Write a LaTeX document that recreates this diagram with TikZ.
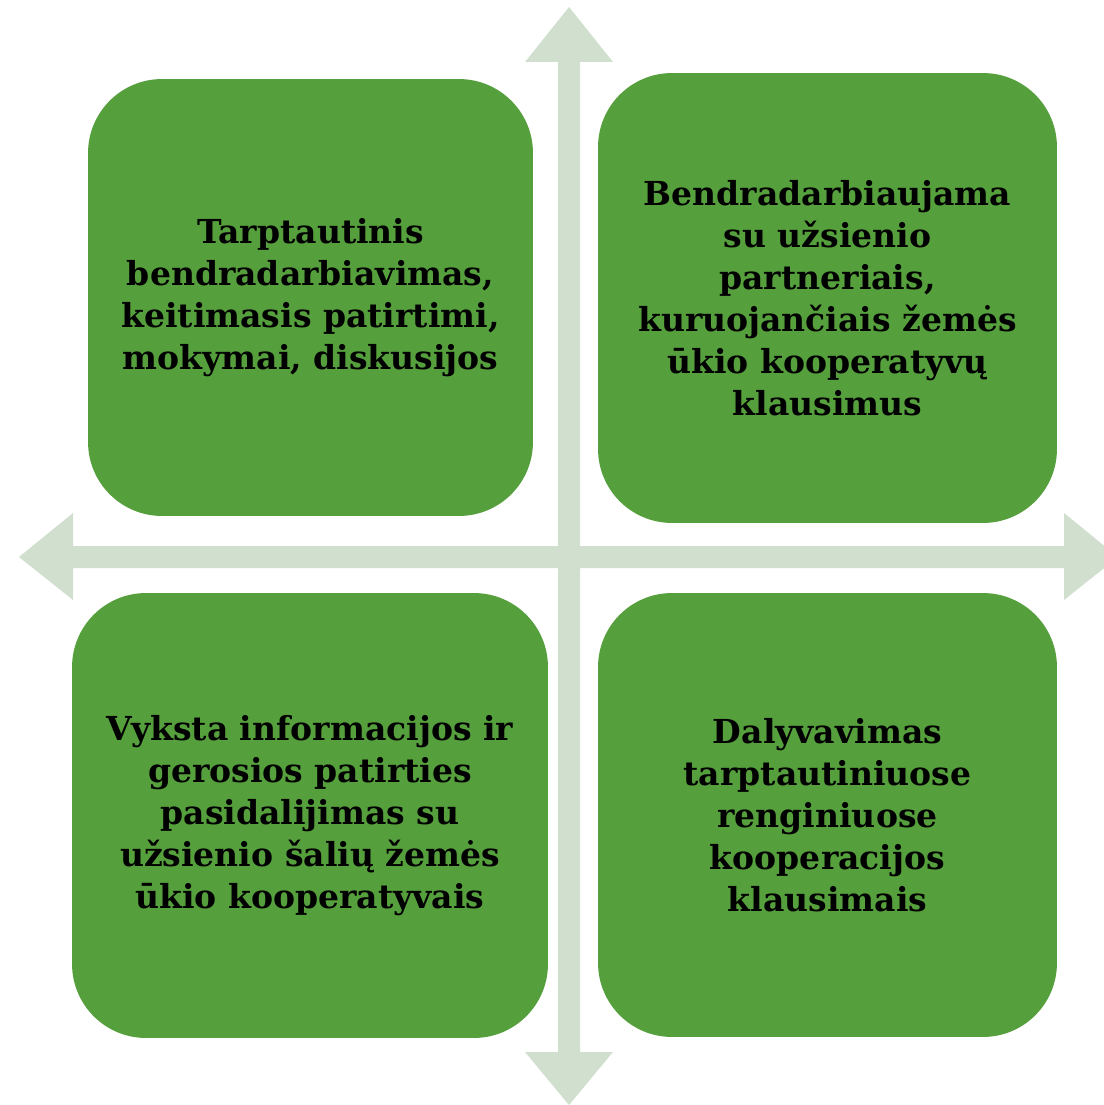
\documentclass[tikz,border=0pt]{standalone}
\usepackage{fontspec}
\setmainfont{DejaVu Serif}
\usetikzlibrary{positioning}
\definecolor{boxgreen}{RGB}{85,159,60}
\definecolor{axisgray}{RGB}{209,223,207}
\tikzset{
  kvadratas/.style={fill=boxgreen, rounded corners=1.48cm, inner sep=0pt,
    align=center, font=\bfseries\fontsize{18.8}{23.9}\selectfont},
}

\begin{document}
\begin{tikzpicture}[x=0.02cm,y=-0.02cm]
            \clip (0,0) rectangle (1104,1105);

            % Vertical axis
            \fill[axisgray] (558,62) -- (525,62) -- (569,7) -- (613,62) -- (580,62)
                -- (580,1052) -- (613,1052) -- (569,1105) -- (525,1052) -- (558,1052) -- cycle;

            % Horizontal axis
            \fill[axisgray] (73,546) -- (73,513) -- (19,557) -- (73,600) -- (73,568)
                -- (1064,568) -- (1064,600) -- (1118,557) -- (1064,513) -- (1064,546) -- cycle;

            % Quadrants
            \node[kvadratas, minimum width=8.9cm, minimum height=8.74cm] (tarpt) at (310.5,297.5)
                {Tarptautinis\\bendradarbiavimas,\\keitimasis patirtimi,\\mokymai, diskusijos};
            \node[kvadratas, minimum width=9.18cm, minimum height=9cm] (bendr) at (827.5,298)
                {Bendradarbiaujama\\su užsienio\\partneriais,\\kuruojančiais žemės\\ūkio kooperatyvų\\klausimus};
            \node[kvadratas, minimum width=9.52cm, minimum height=8.9cm] (vyksta) at (310,815.5)
                {Vyksta informacijos ir\\gerosios patirties\\pasidalijimas su\\užsienio šalių žemės\\ūkio kooperatyvais};
            \node[kvadratas, minimum width=9.18cm, minimum height=8.88cm] (dalyv) at (827.5,815)
                {Dalyvavimas\\tarptautiniuose\\renginiuose\\kooperacijos\\klausimais};

\end{tikzpicture}
\end{document}
